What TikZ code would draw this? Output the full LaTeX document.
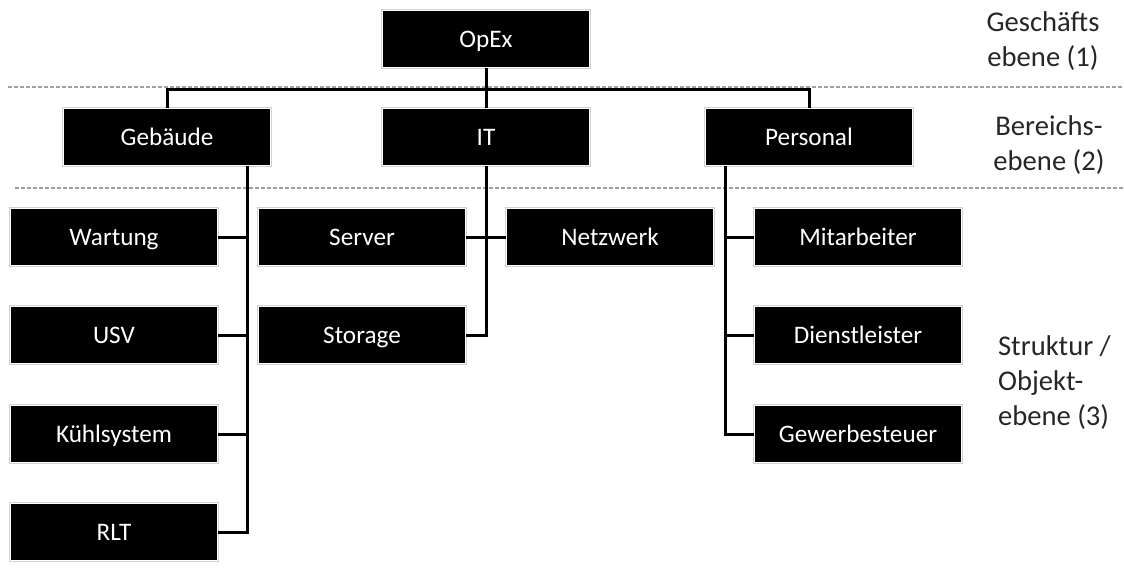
\documentclass[tikz,border=0pt]{standalone}
\usepackage{fontspec}
\setmainfont{Carlito}
\usetikzlibrary{positioning}
\tikzset{
    box/.style={rectangle, fill=black, text=white, inner sep=0pt,
        minimum width=103.5pt, minimum height=28.5pt,
        text height=8pt, text depth=0pt, font=\fontsize{12.6}{15}\selectfont,
        preaction={draw=gray!35, line width=1.6pt}, draw=white, line width=0.6pt},
    link/.style={draw=black, line width=1.5pt},
    level/.style={draw=gray!75, line width=0.6pt, dash pattern=on 2pt off 1pt},
    side/.style={text=black!85, font=\fontsize{14.3}{17.5}\selectfont, align=center},
}
\begin{document}
\begin{tikzpicture}[x=0.5pt, y=-0.5pt]
    \useasboundingbox (0,0) rectangle (1124,570);
    \draw[level] (8,87) -- (1124,87);
    \draw[level] (15,188) -- (1124,188);

    \node[box] (opex) at (486,39) {OpEx};

    \node[box] (gebaeude) at (167,137) {Gebäude};
    \node[box] (it) at (486,137) {IT};
    \node[box] (personal) at (809,137) {Personal};

    \node[box] (wartung) at (114,237) {Wartung};
    \node[box] (usv) at (114,335) {USV};
    \node[box] (kuehl) at (114,434) {Kühlsystem};
    \node[box] (rlt) at (114,532) {RLT};
    \node[box] (server) at (362,237) {Server};
    \node[box] (storage) at (362,335) {Storage};
    \node[box] (netzwerk) at (610,237) {Netzwerk};
    \node[box] (mitarbeiter) at (858,237) {Mitarbeiter};
    \node[box] (dienst) at (858,335) {Dienstleister};
    \node[box] (gewerbe) at (858,434) {Gewerbesteuer};

    \node[side] (lvl1) at (1043,41) {Geschäfts\\ebene (1)};
    \node[side] (lvl2) at (1049,145) {Bereichs-\\ebene (2)};
    \node[side, align=left, anchor=west] (lvl3) at (991,383) {Struktur /\\Objekt-\\ebene (3)};

    \coordinate (bus) at (486,89);
    \coordinate (gtrunk) at (247,0);
    \coordinate (ptrunk) at (725,0);

    \draw[link] (opex) -- (it);
    \draw[link] (gebaeude.north) |- (bus) -| (personal.north);

    \draw[link] (gebaeude.south -| gtrunk) |- (rlt.east);
    \draw[link] (wartung.east) -- (wartung.east -| gtrunk);
    \draw[link] (usv.east) -- (usv.east -| gtrunk);
    \draw[link] (kuehl.east) -- (kuehl.east -| gtrunk);

    \draw[link] (it.south) |- (storage.east);
    \draw[link] (server) -- (netzwerk);

    \draw[link] (personal.south -| ptrunk) |- (gewerbe.west);
    \draw[link] (mitarbeiter.west) -- (mitarbeiter.west -| ptrunk);
    \draw[link] (dienst.west) -- (dienst.west -| ptrunk);
\end{tikzpicture}
\end{document}
